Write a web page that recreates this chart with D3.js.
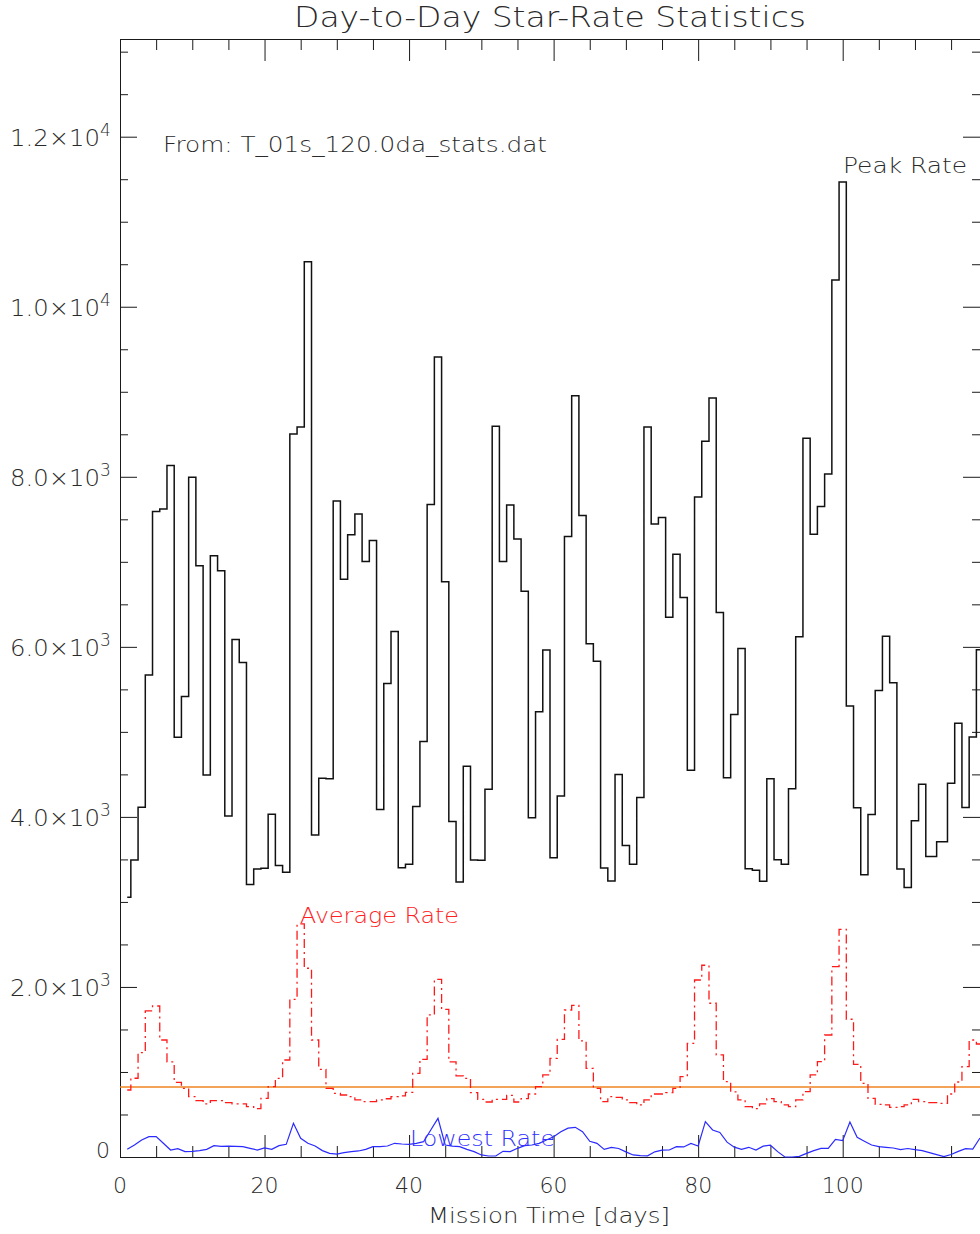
<!DOCTYPE html>
<html>
<head>
<meta charset="utf-8">
<script src="https://cdn.jsdelivr.net/npm/d3@7"></script>
<style>
  html, body { margin: 0; padding: 0; background: #fff; }
  svg { display: block; }
  text { font-family: "DejaVu Sans", "Liberation Sans", sans-serif; font-weight: 200; }
</style>
</head>
<body>
<svg id="chart" width="980" height="1234"></svg>
<script>
// ---------------- data ----------------
// day 113 is absent from the record
const days = [1,2,3,4,5,6,7,8,9,10,11,12,13,14,15,16,17,18,19,20,21,22,23,24,25,26,27,28,29,30,31,32,33,34,35,36,37,38,39,40,41,42,43,44,45,46,47,48,49,50,51,52,53,54,55,56,57,58,59,60,61,62,63,64,65,66,67,68,69,70,71,72,73,74,75,76,77,78,79,80,81,82,83,84,85,86,87,88,89,90,91,92,93,94,95,96,97,98,99,100,101,102,103,104,105,106,107,108,109,110,111,112,114,115,116,117,118,119];

const peakRate = [3055,3494,4114,5670,7592,7620,8133,4937,5416,7996,6953,4494,7071,6894,4012,6086,5816,3204,3388,3395,4031,3427,3350,8502,8585,10530,3788,4455,4450,7714,6795,7317,7561,7004,7251,4086,5570,6180,3402,3442,4121,4888,7674,9408,6767,3945,3233,4595,3493,3490,4326,8594,7003,7669,7269,6655,3991,5236,5962,3521,4247,7297,8953,7544,6036,5832,3400,3247,4498,3665,3442,4228,8585,7446,7520,6347,7089,6580,4549,7762,8418,8927,6405,4461,5205,5982,3391,3373,3244,4449,3495,3442,4332,6118,8453,7323,7650,8032,10314,11467,5304,4109,3320,4028,5486,6124,5579,3388,3170,3956,4385,3533,3709,4396,5100,4112,4941,5965];

const averageRate = [788,926,1227,1718,1776,1376,1118,878,808,710,663,624,663,663,639,624,624,592,569,690,827,925,1141,1855,2741,2220,1376,1031,808,749,729,710,671,651,651,671,685,710,718,761,984,1149,1671,2090,1737,1118,953,925,757,678,647,678,678,725,647,686,741,827,965,1161,1384,1729,1784,1365,1043,808,651,710,702,671,639,612,671,741,741,757,808,945,1337,2082,2255,1808,1200,886,765,671,592,569,624,686,651,612,592,671,769,965,1122,1435,2239,2678,1620,1090,867,690,620,612,584,592,612,678,651,639,631,741,882,1063,1376,1329];

const lowestRate = [90,141,200,239,239,161,82,98,63,67,75,90,133,125,129,125,122,102,82,106,90,133,149,396,220,161,129,75,43,35,51,63,71,90,122,122,129,161,153,149,161,180,318,455,141,129,122,90,63,24,12,12,67,63,102,133,141,161,200,239,298,340,349,298,185,160,90,112,100,60,24,16,14,61,80,82,122,118,160,130,416,318,288,175,116,90,114,82,127,139,63,0,0,8,43,75,102,102,208,192,412,231,186,141,122,114,106,86,100,86,75,51,4,30,66,98,92,224];

const referenceLevel = 823;   // horizontal orange line

const xMajorTicks = [0,20,40,60,80,100];
const xTickLabels = ["0","20","40","60","80","100"];
const xMinorTicks = [5,10,15,25,30,35,45,50,55,65,70,75,85,90,95,105,110,115];
const yMajorTicks = [0,2000,4000,6000,8000,10000,12000];
const yTickMantissa = ["0","2.0\u00d710","4.0\u00d710","6.0\u00d710","8.0\u00d710","1.0\u00d710","1.2\u00d710"];
const yTickExponent = ["","3","3","3","3","4","4"];
const yMinorTicks = [500,1000,1500,2500,3000,3500,4500,5000,5500,6500,7000,7500,8500,9000,9500,10500,11000,11500,12500,13000];

const titleText = "Day-to-Day Star-Rate Statistics";
const xAxisTitle = "Mission Time [days]";
const sourceText = "From: T_01s_120.0da_stats.dat";

// ---------------- layout ----------------
const L = 120, R = 980, T = 39, B = 1157;
const svg = d3.select("#chart");

const x = d3.scaleLinear().domain([0, 119]).range([L, R]);
const y = d3.scaleLinear().domain([0, 13149]).range([B, T]);

const axisColor = "#1a1a1a";
const textColor = "#2a2a2a";

function styleAxis(g) {
  g.select(".domain").remove();
  g.selectAll(".tick line").attr("stroke", axisColor).attr("stroke-width", 1);
  g.selectAll(".tick text").remove();
}

// bottom axis (ticks pointing up)
svg.append("g").attr("transform", `translate(0,${B})`)
  .call(d3.axisBottom(x).tickValues(xMajorTicks).tickSize(-22).tickFormat("")).call(styleAxis);
svg.append("g").attr("transform", `translate(0,${B})`)
  .call(d3.axisBottom(x).tickValues(xMinorTicks).tickSize(-11).tickFormat("")).call(styleAxis);
// top axis (ticks pointing down)
svg.append("g").attr("transform", `translate(0,${T})`)
  .call(d3.axisTop(x).tickValues(xMajorTicks).tickSize(-22).tickFormat("")).call(styleAxis);
svg.append("g").attr("transform", `translate(0,${T})`)
  .call(d3.axisTop(x).tickValues(xMinorTicks).tickSize(-11).tickFormat("")).call(styleAxis);
// left axis (ticks pointing right)
svg.append("g").attr("transform", `translate(${L},0)`)
  .call(d3.axisLeft(y).tickValues(yMajorTicks).tickSize(-17).tickFormat("")).call(styleAxis);
svg.append("g").attr("transform", `translate(${L},0)`)
  .call(d3.axisLeft(y).tickValues(yMinorTicks).tickSize(-8).tickFormat("")).call(styleAxis);
// right axis (ticks pointing left)
svg.append("g").attr("transform", `translate(${R},0)`)
  .call(d3.axisRight(y).tickValues(yMajorTicks).tickSize(-17).tickFormat("")).call(styleAxis);
svg.append("g").attr("transform", `translate(${R},0)`)
  .call(d3.axisRight(y).tickValues(yMinorTicks).tickSize(-8).tickFormat("")).call(styleAxis);

// frame lines (right edge lies at the canvas border)
const frame = svg.append("g").attr("stroke", axisColor).attr("stroke-width", 1);
frame.append("line").attr("x1", L).attr("x2", R).attr("y1", T + 0.5).attr("y2", T + 0.5);
frame.append("line").attr("x1", L).attr("x2", R).attr("y1", B + 0.5).attr("y2", B + 0.5);
frame.append("line").attr("x1", L + 0.5).attr("x2", L + 0.5).attr("y1", T).attr("y2", B + 1);

// ---------------- series ----------------
const stepLine = d3.line().x((d, i) => x(days[i])).y(d => y(d)).curve(d3.curveStep);
const linLine = d3.line().x((d, i) => x(days[i])).y(d => y(d));

// reference level
svg.append("line")
  .attr("x1", x(0)).attr("x2", x(119))
  .attr("y1", y(referenceLevel)).attr("y2", y(referenceLevel))
  .attr("stroke", "#f28322").attr("stroke-width", 1.6);

svg.append("path").datum(averageRate)
  .attr("d", stepLine).attr("fill", "none")
  .attr("stroke", "#ff1a1a").attr("stroke-width", 1.3)
  .attr("stroke-dasharray", "9,4,2,4");

svg.append("path").datum(lowestRate)
  .attr("d", linLine).attr("fill", "none")
  .attr("stroke", "#2a2aff").attr("stroke-width", 1.2);

svg.append("path").datum(peakRate)
  .attr("d", stepLine).attr("fill", "none")
  .attr("stroke", "#111").attr("stroke-width", 1.5);

// ---------------- text ----------------
svg.append("text").attr("x", (L + R) / 2).attr("y", 27)
  .attr("text-anchor", "middle").attr("font-size", 28).attr("fill", textColor)
  .attr("textLength", 512).attr("lengthAdjust", "spacingAndGlyphs")
  .text(titleText);

// x tick labels
svg.append("g").selectAll("text").data(xMajorTicks).join("text")
  .attr("x", d => x(d)).attr("y", 1193)
  .attr("text-anchor", "middle").attr("font-size", 22).attr("fill", textColor)
  .text((d, i) => xTickLabels[i]);

svg.append("text").attr("x", 549).attr("y", 1223)
  .attr("text-anchor", "middle").attr("font-size", 22).attr("fill", textColor)
  .attr("textLength", 242).attr("lengthAdjust", "spacingAndGlyphs")
  .text(xAxisTitle);

// y tick labels
const yl = svg.append("g");
yMajorTicks.forEach((v, i) => {
  if (yTickExponent[i] === "") {
    yl.append("text").attr("x", 110).attr("y", y(v) + 1)
      .attr("text-anchor", "end").attr("font-size", 22).attr("fill", textColor)
      .text(yTickMantissa[i]);
  } else {
    const t = yl.append("text").attr("x", 10).attr("y", y(v) + 9)
      .attr("font-size", 23).attr("fill", textColor);
    t.append("tspan").text(yTickMantissa[i])
      .attr("textLength", 90).attr("lengthAdjust", "spacingAndGlyphs");
    t.append("tspan").attr("x", 100).attr("dy", -10).attr("font-size", 17).text(yTickExponent[i]);
  }
});

svg.append("text").attr("x", 163).attr("y", 152)
  .attr("font-size", 21).attr("fill", textColor)
  .attr("textLength", 384).attr("lengthAdjust", "spacingAndGlyphs")
  .text(sourceText);

svg.append("text").attr("x", 843).attr("y", 173)
  .attr("font-size", 21).attr("fill", textColor)
  .attr("textLength", 124).attr("lengthAdjust", "spacingAndGlyphs")
  .text("Peak Rate");

svg.append("text").attr("x", 300).attr("y", 923)
  .attr("font-size", 21).attr("fill", "#ff2020")
  .attr("textLength", 159).attr("lengthAdjust", "spacingAndGlyphs")
  .text("Average Rate");

svg.append("text").attr("x", 410).attr("y", 1146)
  .attr("font-size", 21).attr("fill", "#3030ff")
  .attr("textLength", 145).attr("lengthAdjust", "spacingAndGlyphs")
  .text("Lowest Rate");
</script>
</body>
</html>
